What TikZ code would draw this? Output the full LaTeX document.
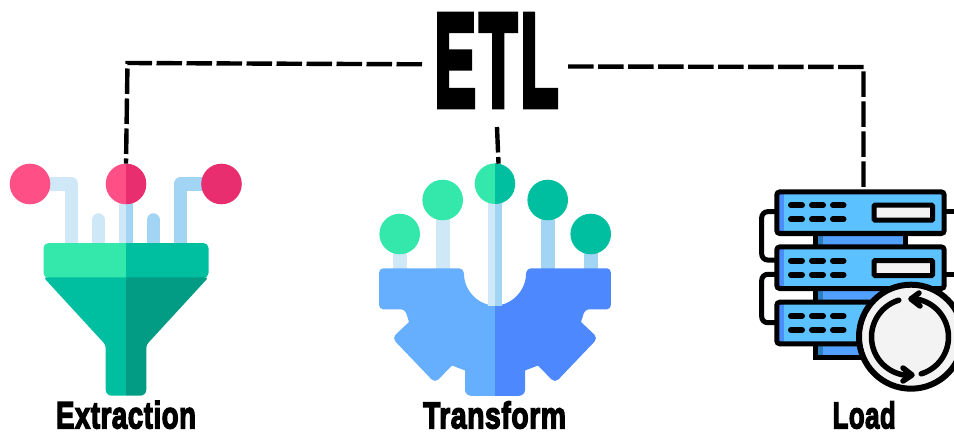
\documentclass[tikz,border=0pt]{standalone}
\usepackage{fontspec}
\usepackage{graphicx}
\newfontfamily\headfont[FakeBold=4,LetterSpace=2]{Liberation Sans Bold}
\newfontfamily\titlefont[FakeBold=5,LetterSpace=5]{Liberation Sans Bold}
\definecolor{pinkL}{HTML}{FF4F87}
\definecolor{pinkR}{HTML}{E92E6F}
\definecolor{mint}{HTML}{34E8AB}
\definecolor{teal}{HTML}{00BFA1}
\definecolor{tealD}{HTML}{029C85}
\definecolor{pipeL}{HTML}{CFE8F8}
\definecolor{pipeR}{HTML}{A2D5F3}
\definecolor{gearL}{HTML}{66AFFF}
\definecolor{gearR}{HTML}{4E88FF}
\definecolor{rackfill}{HTML}{5CC1FF}
\definecolor{rackstrip}{HTML}{4A8DFF}
\definecolor{linkfill}{HTML}{52A0FF}
\definecolor{linkstrip}{HTML}{2C7FBF}
\definecolor{paper}{HTML}{F3F3F3}
\tikzset{
  dashline/.style={line width=4.4pt,dash pattern=on 25.5pt off 4.5pt,black},
  ball/.style={circle,minimum size=40.6pt,inner sep=0pt,outer sep=0pt,fill=#1},
  halfball/.style args={#1/#2}{ball=#1,path picture={\fill[#2] (path picture bounding box.north) rectangle (path picture bounding box.south east);}},
  pipe/.style={line width=13.5pt,line join=round,#1},
  word/.style={inner sep=0pt,outer sep=0pt,black},
  rack/.style={draw=black,line width=5pt,rounded corners=3pt,fill=rackfill,minimum width=167.4pt,minimum height=41.6pt,inner sep=0pt,outer sep=0pt,
    path picture={\fill[rackstrip] (path picture bounding box.north west) rectangle ([xshift=7pt]path picture bounding box.south west);}},
  link/.style={draw=black,line width=5pt,fill=linkfill},
  wire/.style={draw=black,line width=5pt,rounded corners=6pt},
  led/.style={line width=6pt,line cap=round,black},
  screen/.style={draw=black,line width=5pt,fill=paper,rounded corners=1pt,minimum width=58.5pt,minimum height=15pt,inner sep=0pt,outer sep=0pt},
  ring/.style={line width=5.5pt,line cap=round,line join=round,black}
}
\begin{document}
\begin{tikzpicture}[x=1pt,y=-1pt]
\useasboundingbox (0,0) rectangle (954,433);
% ---- extraction pipes
\draw[pipe=pipeL] (30,183.8) -- (71.7,183.8) -- (71.7,250);
\draw[pipe=pipeL,line cap=round] (98.7,220) -- (98.7,250);
\fill[pipeL] (119.3,184) rectangle (126,250);
\fill[pipeR] (126,184) rectangle (132.8,250);
\draw[pipe=pipeR,line cap=round] (153.3,220) -- (153.3,250);
\draw[pipe=pipeR] (221.5,183.8) -- (180.5,183.8) -- (180.5,250);
% ---- funnel
\foreach \s/\ca/\cb in {-1/mint/teal,1/teal/tealD}{
  \fill[\ca] (126,243) [rounded corners=5pt] -- ({126+\s*82.5},243) -- ({126+\s*82.5},278) [sharp corners] -- (126,278) -- cycle;
  \fill[\cb] (126,277.3) [rounded corners=3pt] -- ({126+\s*82.5},277.3) -- ({126+\s*20.3},345) [sharp corners] [rounded corners=6pt] -- ({126+\s*20.3},395.7) [sharp corners] -- (126,395.7) -- cycle;
}
% ---- extraction balls
\node[ball=pinkL] (eL) at (30,184) {};
\node[halfball=pinkL/pinkR] (eM) at (126,184) {};
\node[ball=pinkR] (eR) at (221.5,184) {};
% ---- transform pipes
\fill[pipeL] (393,234) rectangle (406.5,275);
\fill[pipeL] (436,200) rectangle (449.5,275);
\fill[pipeR] (541,200) rectangle (554.5,275);
\fill[pipeR] (584,234) rectangle (597.5,275);
% ---- gear
\foreach \s/\c in {-1/gearL,1/gearR}{
  \fill[\c] (495,305.5) .. controls ({495+\s*17.1},305.5) and ({495+\s*31},290) .. ({495+\s*31},274)
    [rounded corners=4pt] -- ({495+\s*32},268.3) -- ({495+\s*115.8},268.3) -- ({495+\s*115.8},309.3) -- ({495+\s*90},309.3)
    [sharp corners] -- ({495+\s*86},322) [rounded corners=5pt] -- ({495+\s*103},338) -- ({495+\s*60},383) [sharp corners]
    -- ({495+\s*43},365.5) -- ({495+\s*30},370.5) [rounded corners=6pt] -- ({495+\s*30},395.8) [sharp corners] -- (495,395.8) -- cycle;
}
\fill[pipeL] (488.3,184) rectangle (495,305.6);
\fill[pipeR] (495,184) rectangle (501.8,305.6);
% ---- transform balls
\node[ball=mint] (t1) at (399.7,234) {};
\node[ball=mint] (t2) at (442.7,200) {};
\node[halfball=mint/teal] (t3) at (495,183.7) {};
\node[ball=teal] (t4) at (547.7,200) {};
\node[ball=teal] (t5) at (590.7,234) {};
% ---- server
\draw[wire] (778,211.7) -- (761.7,211.7) -- (761.7,260) -- (778,260);
\draw[wire] (778,274.3) -- (761.7,274.3) -- (761.7,322.7) -- (778,322.7);
\draw[line width=5pt,black] (944,211.7) -- (954,211.7);
\draw[line width=5pt,black] (944,274.3) -- (954,274.3);
\draw[link] (815.2,230) rectangle (905.5,250);
\draw[link] (815.2,285) rectangle (905.5,305);
\draw[link] (815.2,340) rectangle (905.5,357.5);
\fill[linkstrip] (817.8,232) rectangle (823,247.5);
\fill[linkstrip] (817.8,288) rectangle (823,302.5);
\fill[linkstrip] (817.8,343) rectangle (823,355);
\node[rack] (r1) at (860.5,212.7) {};
\node[rack] (r2) at (860.5,267.7) {};
\node[rack] (r3) at (860.5,323) {};
\foreach \y in {205.3,219.3,260.7,274.7,316,330}{
  \draw[led] (791,\y) -- (802,\y);
  \draw[led] (812,\y) -- (823,\y);
  \draw[led] (833,\y) -- (843.5,\y);
}
\node[screen] (s1) at (903.3,212.7) {};
\node[screen] (s2) at (903.3,268) {};
\node[circle,draw=black,line width=6pt,fill=paper,minimum size=104pt,inner sep=0pt,outer sep=0pt] (sync) at (911,336.7) {};
\draw[ring] plot[domain=107:268,samples=40] ({910+38.5*cos(\x)},{337-38.5*sin(\x)});
\draw[ring] plot[domain=-73:88,samples=40] ({910+38.5*cos(\x)},{337-38.5*sin(\x)});
\draw[ring] (919,293) -- (911,299) -- (920,306);
\draw[ring] (903,368) -- (912,375) -- (903,381);
% ---- connectors
\node[word] (etl) at (496.5,60.5) {\resizebox{124pt}{91pt}{\titlefont ETL}};
\coordinate (lStart) at (422,64.3);
\coordinate (lCorner) at (127.5,63);
\coordinate (rStart) at (568,66.5);
\coordinate (rCorner) at (863.5,67);
\coordinate (mStart) at (497,127);
\draw[dashline] (lStart) -- (lCorner) -- (eM.north);
\draw[dashline,shorten >=4pt] (rStart) -- (rCorner) -- (rCorner |- r1.north);
\draw[dashline] (mStart) -- (t3.80);
% ---- labels
\node[word] (lE) at (126,414.8) {\resizebox{140pt}{27.5pt}{\headfont Extraction}};
\node[word] (lT) at (494.5,415) {\resizebox{143pt}{27pt}{\headfont Transform}};
\node[word] (lL) at (864.2,415) {\resizebox{63pt}{27pt}{\headfont Load}};
\end{tikzpicture}
\end{document}
